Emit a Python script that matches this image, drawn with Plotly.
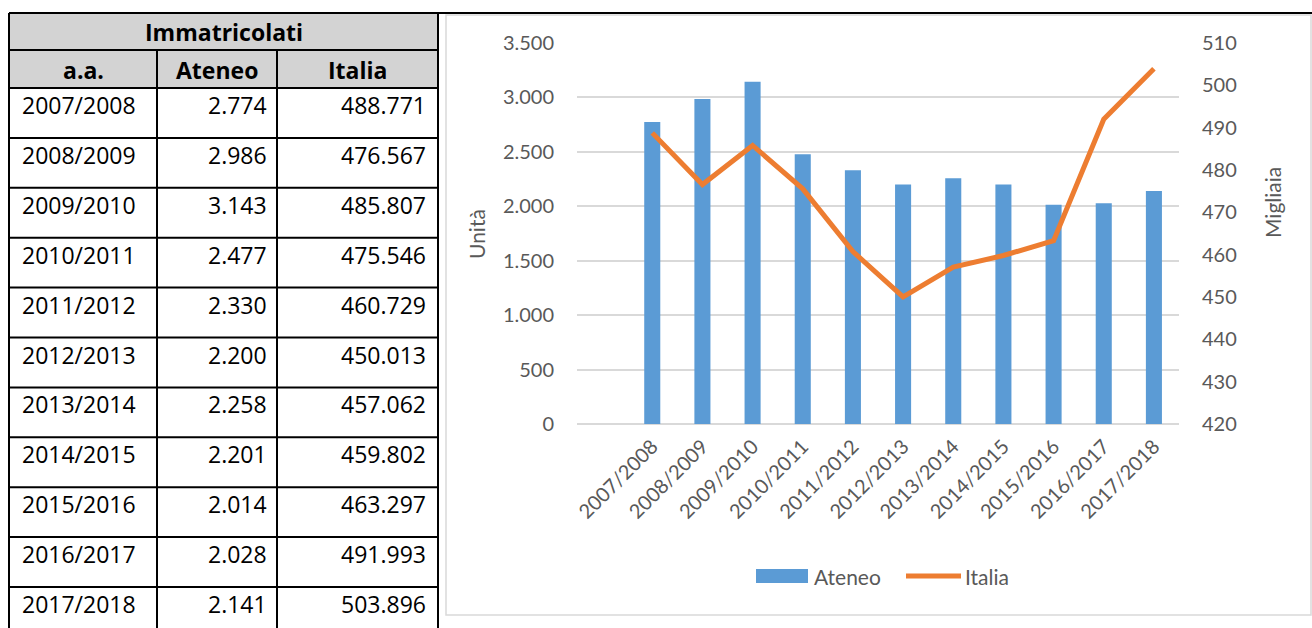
import plotly.graph_objects as go

# ---------------- data ----------------
anni = ["2007/2008", "2008/2009", "2009/2010", "2010/2011", "2011/2012", "2012/2013",
        "2013/2014", "2014/2015", "2015/2016", "2016/2017", "2017/2018"]
ateneo = [2774, 2986, 3143, 2477, 2330, 2200, 2258, 2201, 2014, 2028, 2141]
italia = [488771, 476567, 485807, 475546, 460729, 450013, 457062, 459802, 463297, 491993, 503896]
left_ticks = [0, 500, 1000, 1500, 2000, 2500, 3000, 3500]
right_ticks = [420, 430, 440, 450, 460, 470, 480, 490, 500, 510]
table_title = "Immatricolati"
table_header = ["a.a.", "Ateneo", "Italia"]
series_names = ["Ateneo", "Italia"]
axis_titles = ["Unità", "Migliaia"]

# ---------------- helpers ----------------
W, H = 1312, 628
FONT = "Lato"
TFONT = "Open Sans"
GREY_TXT = "#595959"
BLUE = "#5B9BD5"
ORANGE = "#ED7D31"
GRID = "#D9D9D9"


def px(x):
    return x / W


def py(y):
    return 1 - y / H


def fmt(v):
    return f"{v:,}".replace(",", ".")


fig = go.Figure()

fig.add_trace(go.Bar(x=anni, y=ateneo, name=series_names[0], marker=dict(color=BLUE, line=dict(width=0)),
                     width=0.32, yaxis="y"))
fig.add_trace(go.Scatter(x=anni, y=[v / 1000 for v in italia], name=series_names[1], mode="lines",
                         line=dict(color=ORANGE, width=5), yaxis="y2"))

shapes = []
annotations = []

# ---------------- table ----------------
col_x = [9, 157, 277, 438]
row_top = 88
row_h = 49.9
# grey header fill
shapes.append(dict(type="rect", xref="paper", yref="paper", x0=px(col_x[0]), x1=px(col_x[-1]),
                   y0=py(88), y1=py(13), fillcolor="#D3D3D3", line=dict(width=0), layer="below"))
# horizontal lines
hlines = [13, 50, 88] + [row_top + row_h * (i + 1) for i in range(len(anni))]
for y in hlines:
    x1 = W if y == 13 else col_x[-1]
    shapes.append(dict(type="line", xref="paper", yref="paper", x0=px(col_x[0]), x1=px(x1),
                       y0=py(y), y1=py(y), line=dict(color="black", width=2)))
# vertical lines
for i, x in enumerate(col_x):
    ytop = 13 if i in (0, len(col_x) - 1) else 50
    shapes.append(dict(type="line", xref="paper", yref="paper", x0=px(x), x1=px(x),
                       y0=py(ytop), y1=py(H + 5), line=dict(color="black", width=2)))

tfont = dict(family=TFONT, size=23, color="black")
hfont = dict(family=TFONT, size=23, color="black")
annotations.append(dict(text="<b>" + table_title + "</b>", x=px(224), y=py(32), xref="paper", yref="paper",
                        showarrow=False, xanchor="center", yanchor="middle", font=hfont))
for name, cx in zip(table_header, [83, 217, 357]):
    annotations.append(dict(text="<b>" + name + "</b>", x=px(cx), y=py(70), xref="paper", yref="paper",
                            showarrow=False, xanchor="center", yanchor="middle", font=hfont))
for i, (a, at, it) in enumerate(zip(anni, ateneo, italia)):
    yc = row_top + row_h * i + 17
    annotations.append(dict(text=a, x=px(20), y=py(yc), xref="paper", yref="paper", showarrow=False,
                            xanchor="left", yanchor="middle", font=tfont))
    annotations.append(dict(text=fmt(at), x=px(269), y=py(yc), xref="paper", yref="paper", showarrow=False,
                            xanchor="right", yanchor="middle", font=tfont))
    annotations.append(dict(text=fmt(it), x=px(428), y=py(yc), xref="paper", yref="paper", showarrow=False,
                            xanchor="right", yanchor="middle", font=tfont))

# ---------------- chart frame ----------------
shapes.append(dict(type="rect", xref="paper", yref="paper", x0=px(446), x1=px(1311), y0=py(615), y1=py(15),
                   line=dict(color=GRID, width=1.5), fillcolor="rgba(0,0,0,0)", layer="below"))

# axis titles
cfont = dict(family=FONT, size=21, color=GREY_TXT)
annotations.append(dict(text=axis_titles[0], x=px(476), y=py(234), xref="paper", yref="paper",
                        showarrow=False, textangle=-90, xanchor="center", yanchor="middle", font=cfont))
annotations.append(dict(text=axis_titles[1], x=px(1272), y=py(203), xref="paper", yref="paper",
                        showarrow=False, textangle=-90, xanchor="center", yanchor="middle", font=cfont))

# legend (drawn)
shapes.append(dict(type="rect", xref="paper", yref="paper", x0=px(756), x1=px(808), y0=py(583), y1=py(569),
                   fillcolor=BLUE, line=dict(width=0)))
annotations.append(dict(text=series_names[0], x=px(812), y=py(576), xref="paper", yref="paper",
                        showarrow=False, xanchor="left", yanchor="middle", font=cfont))
shapes.append(dict(type="line", xref="paper", yref="paper", x0=px(906), x1=px(961), y0=py(576), y1=py(576),
                   line=dict(color=ORANGE, width=5)))
annotations.append(dict(text=series_names[1], x=px(963), y=py(576), xref="paper", yref="paper",
                        showarrow=False, xanchor="left", yanchor="middle", font=cfont))

tickfont = dict(family=FONT, size=20, color=GREY_TXT)
fig.update_layout(
    width=W, height=H, autosize=False,
    margin=dict(l=0, r=0, t=0, b=0, pad=0, autoexpand=False),
    paper_bgcolor="white", plot_bgcolor="white",
    separators=",.",
    showlegend=False,
    shapes=shapes, annotations=annotations,
    xaxis=dict(domain=[px(577), px(1179)], type="category", range=[-1.5, 10.5], tickangle=-45,
               tickfont=tickfont, showgrid=False, zeroline=False, showline=False, ticks="",
               ticklabelstandoff=6, automargin=False),
    yaxis=dict(domain=[py(424), py(43)], range=[0, 3500], tickvals=left_ticks, tickformat=",",
               tickfont=tickfont, showgrid=True, gridcolor=GRID, gridwidth=1.5, zeroline=True,
               zerolinecolor=GRID, zerolinewidth=1.5, showline=False, ticks="", ticklabelstandoff=22,
               automargin=False),
    yaxis2=dict(overlaying="y", side="right", anchor="x", range=[420, 510], tickvals=right_ticks,
                tickfont=tickfont, showgrid=False, zeroline=False, showline=False, ticks="",
                ticklabelstandoff=22, automargin=False),
)

fig.write_html("out.html")
